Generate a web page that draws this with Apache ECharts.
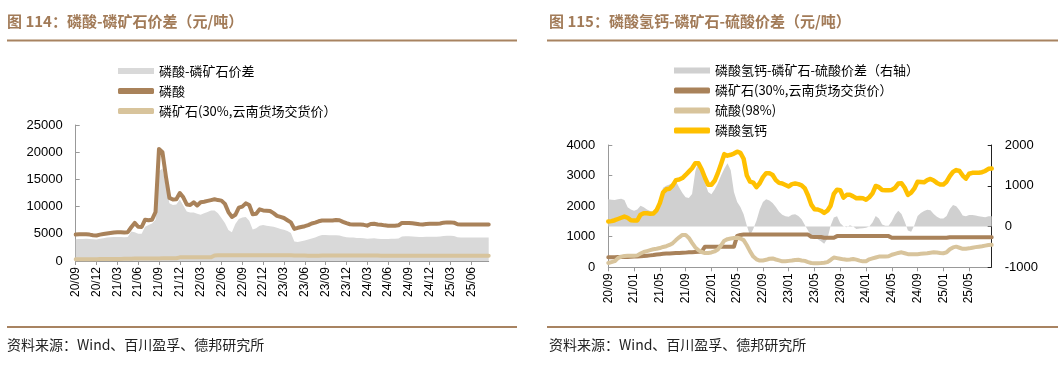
<!DOCTYPE html>
<html><head><meta charset="utf-8">
<script src="https://cdn.jsdelivr.net/npm/echarts@6/dist/echarts.min.js"></script>
<style>html,body{margin:0;padding:0;background:#fff}#c{width:1063px;height:367px}</style>
</head><body><div id="c"></div>
<script>
// Months (each split into two half-month points)
const months = ['20/09','20/10','20/11','20/12',
 '21/01','21/02','21/03','21/04','21/05','21/06','21/07','21/08','21/09','21/10','21/11','21/12',
 '22/01','22/02','22/03','22/04','22/05','22/06','22/07','22/08','22/09','22/10','22/11','22/12',
 '23/01','23/02','23/03','23/04','23/05','23/06','23/07','23/08','23/09','23/10','23/11','23/12',
 '24/01','24/02','24/03','24/04','24/05','24/06','24/07','24/08','24/09','24/10','24/11','24/12',
 '25/01','25/02','25/03','25/04','25/05','25/06','25/07','25/08'];
const categories = [];
months.forEach(m => { categories.push(m + '上'); categories.push(m + '下'); });

// Figure 114
const acidPrice = [4850,4900,4900,4900,4850,4750,4700,4850,4950,5050,5150,5250,5300,5300,5250,5300,
 6200,7000,6300,6250,7600,7500,7600,9000,20600,20000,15500,11600,11300,11350,12500,11700,
 10400,10300,10800,10200,10800,10900,11050,11200,11350,11200,11100,10500,9000,8100,8500,9800,
 10000,10600,10300,8600,8700,9500,9300,9250,9200,8800,8300,8100,7900,7500,7100,5900,
 6100,6250,6400,6600,6900,7050,7300,7450,7450,7450,7450,7550,7500,7200,6950,6750,
 6700,6700,6700,6650,6500,6800,6850,6700,6650,6550,6500,6500,6500,6550,7000,7000,
 7000,6950,6850,6750,6700,6800,6850,6850,6850,6900,7050,7100,7100,7050,6750,6700,
 6700,6700,6700,6700,6700,6700,6700,6700];
const acidRockSpread = [4000,4050,4050,4100,4050,4000,3950,4100,4200,4300,4350,4400,4400,4400,4350,4400,
 5400,5300,5000,5000,6300,6600,6900,7600,16500,17000,13800,10600,10300,10400,11300,10200,
 9100,8900,8900,8700,8500,8800,9000,9300,9300,8800,7900,7000,5700,5300,6800,7700,
 8000,8100,7400,5800,6000,6500,6600,6500,6400,6300,6100,5900,5750,5500,5150,3600,
 3500,3650,3750,3950,4150,4300,4600,4800,4800,4750,4750,4750,4700,4500,4350,4300,
 4300,4250,4250,4200,4100,4150,4200,4100,4050,4050,4050,4100,4100,4150,4500,4550,
 4550,4500,4450,4400,4400,4450,4450,4450,4450,4500,4600,4650,4650,4600,4350,4300,
 4300,4300,4300,4300,4300,4300,4300,4300];
const rockPrice = [330,330,330,335,335,340,340,345,350,355,360,370,380,390,400,420,
 430,440,450,455,460,465,470,475,480,490,495,500,505,515,675,675,
 675,675,675,675,675,675,675,675,1030,1060,1070,1070,1070,1070,1070,1070,
 1070,1070,1070,1070,1070,1070,1070,1070,1070,1070,1070,1070,1070,1070,1070,1000,
 990,990,990,965,965,965,965,1020,1020,1020,1020,1020,1020,1020,1020,1020,
 1020,1020,1020,1020,1020,1020,1020,1020,965,965,965,965,965,965,965,965,
 965,965,965,965,965,965,965,965,965,965,985,985,985,985,985,985,
 985,985,985,985,985,985,985,985];

// Figure 115
const sulfuricPrice = [140,170,200,300,350,370,375,375,375,390,450,500,530,560,590,605,
 630,665,690,730,790,890,980,1060,1060,960,800,650,560,500,465,470,
 485,520,580,720,870,920,940,955,965,940,890,720,520,350,260,220,
 225,245,280,290,255,225,195,195,210,220,240,245,225,210,170,140,
 135,135,140,150,170,240,320,300,280,260,245,255,270,250,220,195,
 200,260,290,320,350,350,350,360,410,440,470,490,460,430,430,430,
 430,440,450,460,475,490,485,470,460,490,590,650,675,640,605,610,
 620,640,660,675,690,710,730,735];
const dcpPrice = [1500,1510,1540,1580,1620,1660,1620,1540,1530,1530,1720,1770,1770,1750,1760,1870,
 2100,2450,2550,2570,2680,2850,2870,2920,3020,3130,3240,3400,3400,3200,2930,2700,
 2700,2830,3080,3380,3700,3650,3680,3720,3780,3740,3550,3000,2800,2770,2620,2750,
 2950,3080,3080,3020,2850,2760,2740,2690,2640,2720,2740,2720,2680,2580,2350,2050,
 1900,1890,1850,1780,1850,2015,2400,2540,2520,2280,2370,2370,2320,2260,2270,2260,
 2210,2290,2420,2660,2620,2530,2520,2520,2530,2600,2740,2750,2600,2370,2440,2580,
 2800,2790,2780,2850,2890,2840,2760,2710,2710,2800,2980,3120,3180,3150,3000,2900,
 3060,3090,3090,3090,3110,3150,3220,3230];
const dcpSpread = [670,660,650,670,680,650,470,420,390,420,510,470,420,380,370,470,
 700,950,1000,1030,1070,1110,960,820,720,700,800,1350,1600,1450,1080,850,
 790,910,1060,1250,1420,1550,1380,850,600,480,300,20,-220,-60,150,420,
 600,670,640,580,480,360,290,250,240,290,300,260,180,40,-100,-230,
 -270,-310,-360,-420,-300,20,220,250,80,10,-20,30,0,-60,-50,-40,
 -30,0,100,260,200,50,20,20,130,290,390,310,120,-100,-130,30,
 260,330,380,410,400,310,240,200,200,260,430,530,500,400,270,250,
 280,280,270,250,240,230,250,250];

const leftYTicks = {min:0, max:25000, interval:5000};
const rightLYTicks = {min:0, max:4000, interval:1000};
const rightRYTicks = {min:-1000, max:2000, interval:1000};

const C_BROWN = '#a9825a', C_TAN = '#d8c49c', C_GRAY1 = '#d9d9d9', C_GRAY2 = '#d0d0d0', C_YEL = '#ffc000';
const TITLE_C = '#a27b58', RULE_C = '#a88361';
const NUMF = 'Liberation Sans, Arial, sans-serif';
const CJKF = '"Noto Sans CJK SC", sans-serif';
const ROCK = '磷矿石(30%,云南货场交货价）';

const chart = echarts.init(document.getElementById('c'), null, {renderer:'canvas'});

function xAxisCfg(grid, step) {
  return {
    type:'category', gridIndex:grid, data:categories, boundaryGap:false,
    axisLine:{show:true, lineStyle:{color:'#999', width:1}},
    axisTick:{show:true, interval:step-1, length:4, lineStyle:{color:'#999'}},
    axisLabel:{interval:step-1, rotate:90, fontSize:12, color:'#000', fontFamily:NUMF, margin:6,
      formatter: v => v.slice(0,5)},
    splitLine:{show:false}
  };
}
function yAxisCfg(grid, t, pos, color) {
  return {
    type:'value', gridIndex:grid, position:pos, min:t.min, max:t.max, interval:t.interval,
    axisLine:{show:true, lineStyle:{color:color, width:1}},
    axisTick:{show:true, inside:true, length:4, lineStyle:{color:color}},
    axisLabel:{fontSize:13, color:'#000', fontFamily:NUMF, margin:13, formatter: v => String(v)},
    splitLine:{show:false}
  };
}
function lineS(name, data, xi, yi, color, w, z) {
  return {type:'line', name, data, xAxisIndex:xi, yAxisIndex:yi, symbol:'none', smooth:false,
    lineStyle:{color, width:w, cap:'round', join:'round'}, itemStyle:{color}, z, animation:false};
}
function areaS(name, data, xi, yi, color) {
  return {type:'line', name, data, xAxisIndex:xi, yAxisIndex:yi, symbol:'none',
    lineStyle:{width:0, color}, itemStyle:{color}, areaStyle:{color, opacity:1}, z:1, animation:false};
}

const option = {
  animation:false,
  grid:[
    {left:75.7, top:125, width:413, height:136, containLabel:false},
    {left:608.3, top:145, width:383.4, height:122.3, containLabel:false}
  ],
  xAxis:[xAxisCfg(0,6), xAxisCfg(1,8)],
  yAxis:[yAxisCfg(0,leftYTicks,'left','#999'), yAxisCfg(1,rightLYTicks,'left','#999'), yAxisCfg(1,rightRYTicks,'right','#222')],
  legend:[
    {orient:'vertical', left:113, top:59, itemWidth:36, itemHeight:6, itemGap:6, selectedMode:false,
     textStyle:{fontSize:13, lineHeight:14, fontFamily:CJKF, color:'#000'},
     data:[{name:'磷酸-磷矿石价差', icon:'rect', itemStyle:{color:C_GRAY1}},
           {name:'磷酸', icon:'roundRect', itemStyle:{color:C_BROWN}},
           {name:ROCK, icon:'roundRect', itemStyle:{color:C_TAN}}]},
    {orient:'vertical', left:669, top:58.5, itemWidth:36, itemHeight:6, itemGap:6, selectedMode:false,
     textStyle:{fontSize:13, lineHeight:14, fontFamily:CJKF, color:'#000'},
     data:[{name:'磷酸氢钙-磷矿石-硫酸价差（右轴）', icon:'rect', itemStyle:{color:C_GRAY2}},
           {name:ROCK, icon:'roundRect', itemStyle:{color:C_BROWN}},
           {name:'硫酸(98%)', icon:'roundRect', itemStyle:{color:C_TAN}},
           {name:'磷酸氢钙', icon:'roundRect', itemStyle:{color:C_YEL}}]}
  ],
  series:[
    areaS('磷酸-磷矿石价差', acidRockSpread, 0, 0, C_GRAY1),
    lineS(ROCK, rockPrice, 0, 0, C_TAN, 4, 3),
    lineS('磷酸', acidPrice, 0, 0, C_BROWN, 4, 4),
    areaS('磷酸氢钙-磷矿石-硫酸价差（右轴）', dcpSpread, 1, 2, C_GRAY2),
    lineS(ROCK, rockPrice, 1, 1, C_BROWN, 4, 3),
    lineS('硫酸(98%)', sulfuricPrice, 1, 1, C_TAN, 4, 3),
    lineS('磷酸氢钙', dcpPrice, 1, 1, C_YEL, 4.5, 5)
  ],
  graphic:[
    {type:'text', left:7, top:14, style:{text:'图 114：磷酸-磷矿石价差（元/吨）', fill:TITLE_C, font:'bold 15px "Noto Sans CJK SC", sans-serif'}},
    {type:'line', shape:{x1:7, y1:40.5, x2:517, y2:40.5}, style:{stroke:RULE_C, lineWidth:2}},
    {type:'line', shape:{x1:7, y1:327, x2:517, y2:327}, style:{stroke:RULE_C, lineWidth:2}},
    {type:'text', left:7, top:338, style:{text:'资料来源：Wind、百川盈孚、德邦研究所', fill:'#222', font:'14px "Noto Sans CJK SC", sans-serif'}},
    {type:'text', left:549, top:14, style:{text:'图 115：磷酸氢钙-磷矿石-硫酸价差（元/吨）', fill:TITLE_C, font:'bold 15px "Noto Sans CJK SC", sans-serif'}},
    {type:'line', shape:{x1:547, y1:40.5, x2:1058, y2:40.5}, style:{stroke:RULE_C, lineWidth:2}},
    {type:'line', shape:{x1:547, y1:327, x2:1058, y2:327}, style:{stroke:RULE_C, lineWidth:2}},
    {type:'text', left:549, top:338, style:{text:'资料来源：Wind、百川盈孚、德邦研究所', fill:'#222', font:'14px "Noto Sans CJK SC", sans-serif'}}
  ]
};
chart.setOption(option);
</script>
</body></html>
